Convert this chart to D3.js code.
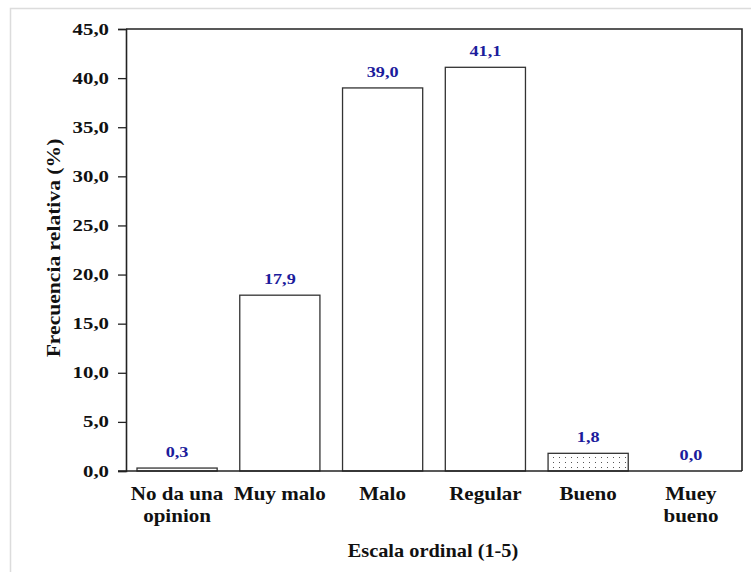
<!DOCTYPE html>
<html><head><meta charset="utf-8">
<script src="https://cdn.jsdelivr.net/npm/d3@7"></script>
<style>body{margin:0;background:#fff}svg{display:block}</style>
</head><body>
<script>
const categories = [["No da una","opinion"],["Muy malo"],["Malo"],["Regular"],["Bueno"],["Muey","bueno"]];
const values = [0.3, 17.9, 39.0, 41.1, 1.8, 0.0];
const yTicks = [0,5,10,15,20,25,30,35,40,45];
const patterned = [false,false,false,false,true,false];

const W=751,H=572;
const m={left:126,top:29,right:742,bottom:471};
const svg=d3.select("body").append("svg").attr("width",W).attr("height",H);
const font="'Liberation Serif','Times New Roman',serif";
const fmt=d=>d3.format(".1f")(d).replace(".",",");

function stxt(g,x,y,str,size,sx,anchor,fill,rot){
  return g.append("text")
    .attr("transform",`translate(${x},${y})${rot?` rotate(${rot})`:""} scale(${sx},1)`)
    .attr("text-anchor",anchor).attr("font-family",font).attr("font-weight","bold")
    .attr("font-size",size).attr("fill",fill||"#111").text(str);
}

const defs=svg.append("defs");
const pat=defs.append("pattern").attr("id","dots").attr("patternUnits","userSpaceOnUse")
  .attr("width",6).attr("height",5);
pat.append("rect").attr("width",6).attr("height",5).attr("fill","#fff");
pat.append("rect").attr("x",1).attr("y",2).attr("width",1).attr("height",1).attr("fill","#555");

// outer light frame
svg.append("rect").attr("x",10.5).attr("y",8.5).attr("width",W+20).attr("height",H+20)
  .attr("fill","none").attr("stroke","#dcdcdc").attr("stroke-width",1.5);

const idx=d3.range(categories.length);
const x=d3.scaleBand().domain(idx).range([m.left,m.right]).paddingInner(0.22).paddingOuter(0.107);
const y=d3.scaleLinear().domain([0,45]).range([m.bottom,m.top]);

// bars
svg.append("g").selectAll("rect").data(idx).join("rect")
  .attr("x",i=>x(i)).attr("width",x.bandwidth())
  .attr("y",i=>y(values[i])).attr("height",i=>y(0)-y(values[i]))
  .attr("fill",i=>patterned[i]?"url(#dots)":"#fff")
  .attr("stroke",i=>values[i]>0?"#333":"none").attr("stroke-width",1.3);

// frame top/right
svg.append("path").attr("d",`M${m.left},${m.top}H${m.right}V${m.bottom}`)
  .attr("fill","none").attr("stroke","#222").attr("stroke-width",1.6);

// y axis (ticks via d3 axis, labels stretched)
const ya=svg.append("g").attr("transform",`translate(${m.left},0)`)
  .call(d3.axisLeft(y).tickValues(yTicks).tickSize(8).tickFormat(""));
ya.select(".domain").attr("stroke","#222").attr("stroke-width",1.6);
ya.selectAll(".tick line").attr("stroke","#222").attr("stroke-width",1.3);
const yl=svg.append("g");
yTicks.forEach(t=>stxt(yl,109,y(t)+5.5,fmt(t),16,1.3,"end"));

// x axis baseline
svg.append("line").attr("x1",m.left-8).attr("x2",m.right).attr("y1",m.bottom).attr("y2",m.bottom)
  .attr("stroke","#222").attr("stroke-width",1.6);

// x tick labels
const xl=svg.append("g");
idx.forEach(i=>{
  categories[i].forEach((s,k)=>stxt(xl,x(i)+x.bandwidth()/2,500+k*22,s,18,1.17,"middle"));
});

// value labels
const vl=svg.append("g");
idx.forEach(i=>stxt(vl,x(i)+x.bandwidth()/2,y(values[i])-11,fmt(values[i]),14,1.3,"middle","#1c1c9c"));

// axis titles
stxt(svg,(m.left+m.right)/2-1,557,"Escala ordinal (1-5)",18.5,1.1,"middle");
stxt(svg,60,(m.top+m.bottom)/2-2,"Frecuencia relativa (%)",18,1.2,"middle",null,-90);
</script>
</body></html>
